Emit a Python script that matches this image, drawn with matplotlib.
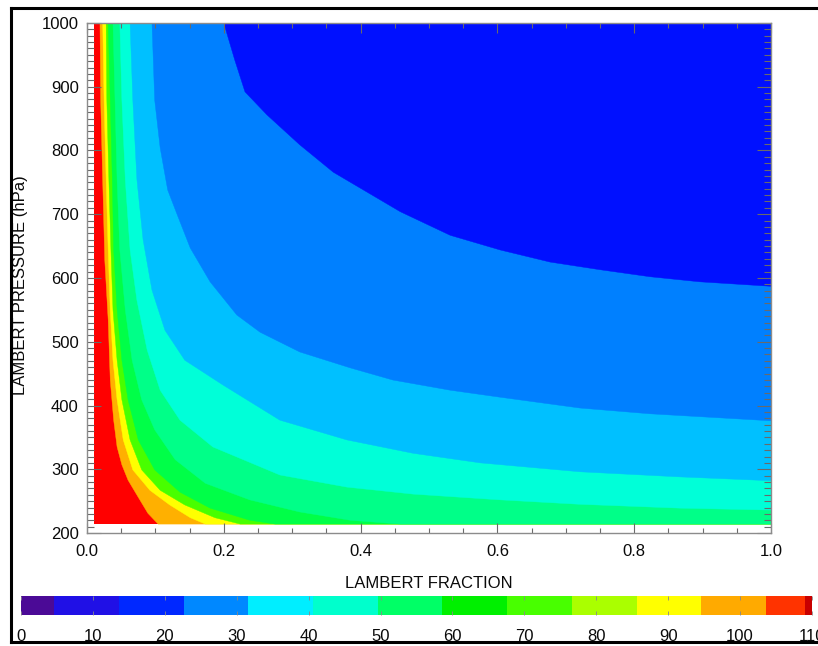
import matplotlib
matplotlib.use("Agg")
import matplotlib.pyplot as plt
from matplotlib.lines import Line2D

plt.rcParams['font.family'] = ['Liberation Sans', 'DejaVu Sans']

# ---------------- data ----------------
frac_min, frac_max = 0.01, 1.0
pres_bot, pres_top = 214, 1000

# contour boundaries (LAMBERT FRACTION, LAMBERT PRESSURE), from top edge downwards
b1_x = [0.200, 0.216, 0.231, 0.263, 0.311, 0.360, 0.409, 0.458, 0.531, 0.604, 0.677, 0.750, 0.823, 0.896, 1.0]
b1_p = [1000, 942, 892, 856, 809, 766, 735, 704, 667, 644, 625, 613, 602, 594, 587]

b2_x = [0.095, 0.099, 0.107, 0.118, 0.132, 0.151, 0.180, 0.219, 0.253, 0.311, 0.385, 0.447, 0.531, 0.604, 0.721, 0.823, 1.0]
b2_p = [1000, 879, 804, 738, 699, 647, 594, 542, 515, 484, 459, 440, 424, 413, 396, 387, 376]

b3_x = [0.063, 0.067, 0.073, 0.082, 0.095, 0.114, 0.143, 0.199, 0.282, 0.380, 0.477, 0.575, 0.721, 0.867, 1.0]
b3_p = [1000, 879, 754, 660, 581, 518, 471, 432, 377, 346, 325, 310, 296, 288, 282]

b4_x = [0.048, 0.051, 0.056, 0.063, 0.073, 0.088, 0.107, 0.136, 0.184, 0.282, 0.380, 0.477, 0.604, 0.721, 0.867, 1.0]
b4_p = [1000, 879, 754, 644, 565, 487, 424, 377, 335, 291, 272, 261, 252, 245, 239, 236]

b5_x = [0.038, 0.041, 0.044, 0.048, 0.056, 0.066, 0.080, 0.099, 0.129, 0.173, 0.238, 0.311, 0.385, 0.458]
b5_p = [1000, 879, 754, 644, 550, 471, 409, 362, 315, 278, 252, 233, 220, 214]

b6_x = [0.031, 0.034, 0.037, 0.039, 0.044, 0.051, 0.060, 0.075, 0.099, 0.136, 0.180, 0.238, 0.275]
b6_p = [1000, 879, 754, 644, 550, 471, 409, 346, 299, 264, 239, 220, 214]

b7_x = [0.028, 0.029, 0.032, 0.035, 0.038, 0.044, 0.051, 0.063, 0.080, 0.107, 0.143, 0.187, 0.224]
b7_p = [1000, 879, 754, 644, 550, 471, 409, 346, 299, 267, 244, 224, 214]

b8_x = [0.023, 0.025, 0.028, 0.031, 0.034, 0.038, 0.044, 0.053, 0.067, 0.092, 0.121, 0.151, 0.173]
b8_p = [1000, 879, 754, 644, 550, 471, 409, 346, 299, 267, 244, 224, 214]

b9_x = [0.019, 0.020, 0.023, 0.026, 0.031, 0.034, 0.039, 0.044, 0.051, 0.060, 0.075, 0.089, 0.104]
b9_p = [1000, 879, 751, 628, 534, 440, 377, 335, 307, 283, 256, 231, 214]

# fill colours: base (left-bottom) region, then region beyond each boundary b9 ... b1
base_color = '#ff0000'
band_colors = ['#ffb000', '#ffff00', '#48ff00', '#00ff48', '#00ff88',
               '#00ffd8', '#00c0ff', '#0080ff', '#0010ff']
boundaries = [(b9_x, b9_p), (b8_x, b8_p), (b7_x, b7_p), (b6_x, b6_p), (b5_x, b5_p),
              (b4_x, b4_p), (b3_x, b3_p), (b2_x, b2_p), (b1_x, b1_p)]

# colour bar
cb_edges = [0, 4.6, 13.6, 22.6, 31.6, 40.6, 49.6, 58.6, 67.6, 76.6, 85.6, 94.6, 103.6, 109, 110]
cb_colors = ['#4b0a96', '#2010e6', '#0028ff', '#0088ff', '#00eeff', '#00ffcc', '#00ff66',
             '#00f000', '#48ff00', '#aaff00', '#ffff00', '#ffaa00', '#ff3300', '#c80000']
cb_ticks = [0, 10, 20, 30, 40, 50, 60, 70, 80, 90, 100, 110]

x_ticks = [0.0, 0.2, 0.4, 0.6, 0.8, 1.0]
y_ticks = [200, 300, 400, 500, 600, 700, 800, 900, 1000]

# ---------------- figure ----------------
W, H = 818, 646
fig = plt.figure(figsize=(W / 100, H / 100), dpi=100)

ax = fig.add_axes([87 / W, (H - 533) / H, 684 / W, 510 / H])

ax.fill([frac_min, frac_max, frac_max, frac_min], [pres_bot, pres_bot, pres_top, pres_top],
        color=base_color, lw=0)
for (bx, bp), col in zip(boundaries, band_colors):
    px = list(bx)
    pp = list(bp)
    if px[-1] < frac_max:
        px.append(frac_max)
        pp.append(pres_bot)
    px.append(frac_max)
    pp.append(pres_top)
    ax.fill(px, pp, color=col, lw=0.3, ec=col)

ax.set_xlim(0, 1)
ax.set_ylim(200, 1000)
ax.set_xticks(x_ticks)
ax.set_xticklabels(['%.1f' % v for v in x_ticks])
ax.set_yticks(y_ticks)
ax.set_xticks([i * 0.05 for i in range(21)], minor=True)
ax.set_yticks(list(range(200, 1001, 10)), minor=True)

for s in ax.spines.values():
    s.set_color('#8c8c8c')
    s.set_linewidth(1.0)

ax.tick_params(axis='both', which='both', direction='in', top=True, right=True,
               color='#6a6a6a', width=0.8, labelsize=12, labelcolor='#0a0a0a')
ax.tick_params(axis='x', which='major', length=7, pad=8)
ax.tick_params(axis='x', which='minor', length=3.5)
ax.tick_params(axis='y', which='major', length=10, pad=6)
ax.tick_params(axis='y', which='minor', length=5)

ax.set_xlabel('LAMBERT FRACTION', fontsize=12, labelpad=12, color='#0a0a0a')
ax.set_ylabel('LAMBERT PRESSURE (hPa)', fontsize=12, color='#0a0a0a')
ax.yaxis.set_label_coords(-0.086, 0.486)

# colour bar
cax = fig.add_axes([21 / W, (H - 615) / H, 791 / W, 19 / H])
for i, col in enumerate(cb_colors):
    cax.bar(cb_edges[i], 1, width=cb_edges[i + 1] - cb_edges[i], align='edge',
            color=col, lw=0)
cax.set_xlim(0, 110)
cax.set_ylim(0, 1)
cax.set_yticks([])
cax.set_xticks(cb_ticks)
cax.set_xticklabels([str(v) for v in cb_ticks])
cax.tick_params(axis='x', direction='in', top=True, length=3, color='#888888',
                width=0.6, labelsize=12, pad=10, labelcolor='#0a0a0a')
for s in cax.spines.values():
    s.set_visible(False)

# outer frame
fig.add_artist(Line2D([11 / W, 11 / W], [(H - 642) / H, (H - 8) / H], color='black', lw=2.2,
                      transform=fig.transFigure))
fig.add_artist(Line2D([11 / W, 1.0], [(H - 8) / H, (H - 8) / H], color='black', lw=2.2,
                      transform=fig.transFigure))
fig.add_artist(Line2D([11 / W, 1.0], [(H - 642) / H, (H - 642) / H], color='black', lw=2.2,
                      transform=fig.transFigure))

fig.savefig('out.png', dpi=100, facecolor='white')
